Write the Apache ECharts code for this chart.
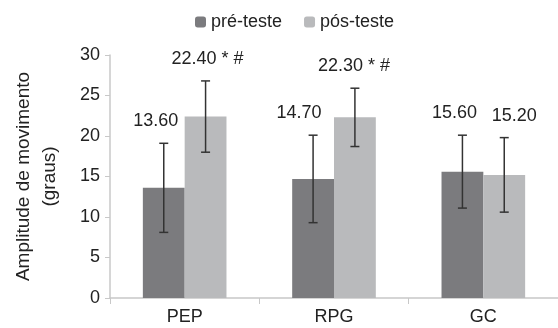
<!DOCTYPE html>
<html>
<head>
<meta charset="utf-8">
<script src="https://cdn.jsdelivr.net/npm/echarts@6/dist/echarts.min.js"></script>
<style>
  html, body { margin: 0; padding: 0; background: #fff; }
  #chart { width: 558px; height: 328px; }
</style>
</head>
<body>
<div id="chart"></div>
<script>
// grupos e valores (graus)
const categories = ['PEP', 'RPG', 'GC'];
const preMeans = [13.6, 14.7, 15.6];
const postMeans = [22.4, 22.3, 15.2];
const preSD = [5.5, 5.4, 4.5];
const postSD = [4.4, 3.6, 4.6];
const preMarks = ['', '', ''];
const postMarks = [' * #', ' * #', ''];
const yTicks = [0, 5, 10, 15, 20, 25, 30];

const FONT = '"Liberation Sans", Arial, sans-serif';
const BAR_FRAC = 0.28;
// pequenos ajustes horizontais dos rótulos (px), como no original
const preNudge = [-8, -14, -8];
const postNudge = [2, -1, 10];

function errorSeries(name, means, sds, marks, side, nudge) {
    return {
        name: name + '-err',
        type: 'custom',
        z: 5,
        data: means.map(function (m, i) { return [i, m, sds[i]]; }),
        renderItem: function (params, api) {
            const i = api.value(0);
            const m = api.value(1);
            const sd = api.value(2);
            const band = api.size([1, 0])[0];
            const dx = side * band * BAR_FRAC / 2;
            const top = api.coord([i, m + sd]);
            const bot = api.coord([i, m - sd]);
            const x = top[0] + dx;
            const cap = 4.5;
            const st = { stroke: '#333', lineWidth: 1.5 };
            return {
                type: 'group',
                children: [
                    { type: 'line', shape: { x1: x, y1: top[1], x2: x, y2: bot[1] }, style: st },
                    { type: 'line', shape: { x1: x - cap, y1: top[1], x2: x + cap, y2: top[1] }, style: st },
                    { type: 'line', shape: { x1: x - cap, y1: bot[1], x2: x + cap, y2: bot[1] }, style: st },
                    {
                        type: 'text',
                        style: {
                            x: x + nudge[params.dataIndex], y: top[1] - 22,
                            text: m.toFixed(2) + marks[params.dataIndex],
                            fill: '#222', font: '18px ' + FONT,
                            align: 'center', verticalAlign: 'middle'
                        }
                    }
                ]
            };
        }
    };
}

const myChart = echarts.init(document.getElementById('chart'));
const option = {
    animation: false,
    textStyle: { fontFamily: FONT },
    legend: {
        data: ['pré-teste', 'pós-teste'],
        top: 8,
        left: 190,
        itemWidth: 11,
        itemHeight: 11,
        itemGap: 22,
        textStyle: { fontSize: 18, color: '#222', fontFamily: FONT }
    },
    grid: { left: 110, right: -11, top: 55, bottom: 30, containLabel: false },
    xAxis: {
        type: 'category',
        data: categories,
        axisLine: { lineStyle: { color: '#c8c8c8', width: 1.5 } },
        axisTick: { show: true, length: 6, lineStyle: { color: '#c8c8c8' } },
        axisLabel: { fontSize: 18, color: '#222', margin: 10, fontFamily: FONT }
    },
    yAxis: {
        type: 'value',
        min: yTicks[0],
        max: yTicks[yTicks.length - 1],
        interval: 5,
        name: 'Amplitude de movimento\n(graus)',
        nameLocation: 'middle',
        nameGap: 47,
        nameTextStyle: { fontSize: 19, lineHeight: 26, color: '#222', fontFamily: FONT },
        axisLine: { show: true, lineStyle: { color: '#c8c8c8', width: 1.5 } },
        axisTick: { show: true, length: 5, lineStyle: { color: '#c8c8c8' } },
        splitLine: { show: false },
        axisLabel: { fontSize: 18, color: '#222', margin: 10, fontFamily: FONT }
    },
    series: [
        {
            name: 'pré-teste',
            type: 'bar',
            data: preMeans,
            barWidth: (BAR_FRAC * 100) + '%',
            barGap: '0%',
            itemStyle: { color: '#7b7b7e' }
        },
        {
            name: 'pós-teste',
            type: 'bar',
            data: postMeans,
            barWidth: (BAR_FRAC * 100) + '%',
            barGap: '0%',
            itemStyle: { color: '#b9babc' }
        },
        errorSeries('pré-teste', preMeans, preSD, preMarks, -1, preNudge),
        errorSeries('pós-teste', postMeans, postSD, postMarks, 1, postNudge)
    ]
};
myChart.setOption(option);
</script>
</body>
</html>
